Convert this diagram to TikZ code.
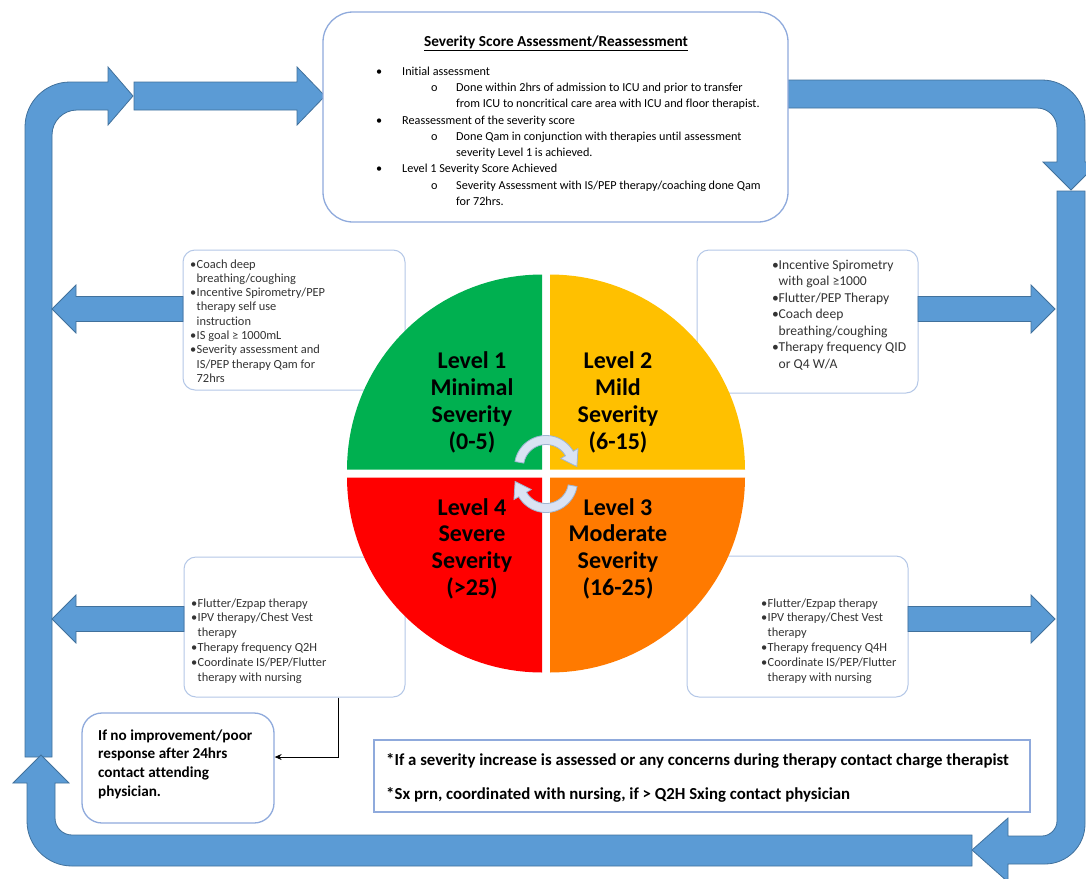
\documentclass[tikz,border=0pt]{standalone}
\usepackage{fontspec}
\setmainfont{Carlito}[Ligatures=NoCommon]
\usetikzlibrary{arrows.meta}
\definecolor{arrowfill}{HTML}{5B9BD5}
\definecolor{arrowline}{HTML}{41719C}
\definecolor{boxline}{HTML}{8FAADC}
\definecolor{lvlline}{HTML}{B4C7E7}
\definecolor{qgreen}{HTML}{00B050}
\definecolor{qyellow}{HTML}{FFC000}
\definecolor{qorange}{HTML}{FF7A00}
\definecolor{qred}{HTML}{FF0000}
\definecolor{cycfill}{HTML}{DAE3F3}
\definecolor{cycline}{HTML}{9FB6D3}
\definecolor{lvltext}{HTML}{333333}
\newcommand{\bul}{\makebox[6.5pt][l]{•}}
\newcommand{\cont}{\hspace*{6.5pt}}
\begin{document}
\begin{tikzpicture}[x=1pt,y=-1pt,
  bigarrow/.style={fill=arrowfill, draw=arrowline, line width=0.8pt, line join=miter},
  mainbox/.style={draw=boxline, line width=1.3pt, rounded corners=30pt, fill=white},
  lvlbox/.style={draw=lvlline, line width=1pt, rounded corners=12pt, fill=white},
  noteline/.style={draw=boxline, line width=1.5pt, fill=white},
  toptxt/.style={font=\fontsize{12.2}{14}\selectfont, anchor=base west, inner sep=0pt},
  lvltxt/.style={font=\fontsize{12.4}{14}\selectfont, text=lvltext, anchor=base west, inner sep=0pt},
  lvltxtb/.style={font=\fontsize{13.6}{15}\selectfont, text=lvltext, anchor=base west, inner sep=0pt},
  qtxt/.style={font=\bfseries\fontsize{24}{27}\selectfont, anchor=base, inner sep=0pt},
  boldtxt/.style={font=\bfseries\fontsize{15.2}{17}\selectfont, anchor=base west, inner sep=0pt},
  notetxt/.style={font=\bfseries\fontsize{16.8}{19}\selectfont, anchor=base west, inner sep=0pt},
  cyc/.style={fill=cycfill, draw=cycline, line width=0.8pt, line join=miter},
  conn/.style={draw=black, line width=1pt, -{Stealth[length=7pt,width=6pt]}}
]
\useasboundingbox (0,0) rectangle (1086,878);
\fill[white] (0,0) rectangle (1086,878);

\begin{scope}
\clip (0,0) rectangle (1086,878);
% top-left curved arrow
\draw[bigarrow] (25,757) -- (25,127) .. controls (25,102.2) and (45.2,82) .. (70,82) -- (108,82) -- (108,67) -- (133,96) -- (108,125) -- (108,110) -- (77,110) .. controls (63.2,110) and (52,121.2) .. (52,135) -- (52,757) -- cycle;
% straight top arrow
\draw[bigarrow] (134,82) -- (297,82) -- (297,67) -- (325,96) -- (297,125) -- (297,110) -- (134,110) -- cycle;
% top-right curved arrow
\draw[bigarrow] (788,80) -- (1042,80) .. controls (1065.7,80) and (1085,99.3) .. (1085,123) -- (1085,162) -- (1099,162) -- (1071,190) -- (1043,162) -- (1057,162) -- (1057,128) .. controls (1057,117) and (1048,108) .. (1037,108) -- (788,108) -- cycle;
% right vertical, bottom-right curved arrow
\draw[bigarrow] (1057,191) -- (1085,191) -- (1085,824) .. controls (1085,846) and (1067,864) .. (1045,864) -- (1008,864) -- (1008,882) -- (972,850) -- (1008,818) -- (1008,836) -- (1042,836) .. controls (1050,836) and (1057,829) .. (1057,821) -- cycle;
% bottom arrow, curving up on the left
\draw[bigarrow] (972,835) -- (72,835) .. controls (62.6,835) and (55,827.4) .. (55,818) -- (55,783) -- (69,783) -- (41,755) -- (13,783) -- (27,783) -- (27,821) .. controls (27,845.9) and (47.1,866) .. (72,866) -- (972,866) -- cycle;
\end{scope}

% top box
\node[mainbox, minimum width=465pt, minimum height=210pt] (topbox) at (555.5,117) {};
\node[font=\bfseries\fontsize{15.3}{17}\selectfont, anchor=base, inner sep=0pt] (title) at (556,46) {\underline{Severity Score Assessment/Reassessment}};
\node[toptxt] (b1) at (376,75) {•};
\node[toptxt] (l1) at (402,75) {Initial assessment};
\node[toptxt] (o1) at (431,91) {o};
\node[toptxt] (s1a) at (456,91) {Done within 2hrs of admission to ICU and prior to transfer};
\node[toptxt] (s1b) at (456,107) {from ICU to noncritical care area with ICU and floor therapist.};
\node[toptxt] (b2) at (376,124) {•};
\node[toptxt] (l2) at (402,124) {Reassessment of the severity score};
\node[toptxt] (o2) at (431,140) {o};
\node[toptxt] (s2a) at (456,140) {Done Qam in conjunction with therapies until assessment};
\node[toptxt] (s2b) at (456,156) {severity Level 1 is achieved.};
\node[toptxt] (b3) at (376,172) {•};
\node[toptxt] (l3) at (402,172) {Level 1 Severity Score Achieved};
\node[toptxt] (o3) at (431,189) {o};
\node[toptxt] (s3a) at (456,189) {Severity Assessment with IS/PEP therapy/coaching done Qam};
\node[toptxt] (s3b) at (456,205) {for 72hrs.};

% level boxes
\node[lvlbox, minimum width=222pt, minimum height=140pt] (ltbox) at (294,320) {};
\node[lvlbox, minimum width=221pt, minimum height=143pt] (rtbox) at (807.5,321.5) {};
\node[lvlbox, minimum width=221pt, minimum height=140pt] (lbbox) at (294.5,627) {};
\node[lvlbox, minimum width=221pt, minimum height=141pt] (rbbox) at (797.5,626.5) {};

% side arrows
\draw[bigarrow] (183,296.5) -- (76,296.5) -- (76,285) -- (52,309) -- (76,333) -- (76,321.5) -- (183,321.5) -- cycle;
\draw[bigarrow] (918,296.5) -- (1031,296.5) -- (1031,285) -- (1055,309) -- (1031,333) -- (1031,321.5) -- (918,321.5) -- cycle;
\draw[bigarrow] (184,606.5) -- (76,606.5) -- (76,595) -- (52,619) -- (76,643) -- (76,631.5) -- (184,631.5) -- cycle;
\draw[bigarrow] (908,606.5) -- (1031,606.5) -- (1031,595) -- (1055,619) -- (1031,643) -- (1031,631.5) -- (908,631.5) -- cycle;

% level box texts
\foreach \t [count=\i] in {{\bul Coach deep},{\cont breathing/coughing},{\bul Incentive Spirometry/PEP},{\cont therapy self use},{\cont instruction},{\bul IS goal ≥ 1000mL},{\bul Severity assessment and},{\cont IS/PEP therapy Qam for},{\cont 72hrs}}
  \node[lvltxt] (lt\i) at (190,{268+14.3*(\i-1)}) {\t};
\foreach \t [count=\i] in {{\bul Incentive Spirometry},{\cont with goal ≥1000},{\bul Flutter/PEP Therapy},{\bul Coach deep},{\cont breathing/coughing},{\bul Therapy frequency QID},{\cont or Q4 W/A}}
  \node[lvltxtb] (rt\i) at (772,{269+16.5*(\i-1)}) {\t};
\foreach \t [count=\i] in {{\bul Flutter/Ezpap therapy},{\bul IPV therapy/Chest Vest},{\cont therapy},{\bul Therapy frequency Q2H},{\bul Coordinate IS/PEP/Flutter},{\cont therapy with nursing}}
  \node[lvltxt] (lb\i) at (191,{607+14.8*(\i-1)}) {\t};
\foreach \t [count=\i] in {{\bul Flutter/Ezpap therapy},{\bul IPV therapy/Chest Vest},{\cont therapy},{\bul Therapy frequency Q4H},{\bul Coordinate IS/PEP/Flutter},{\cont therapy with nursing}}
  \node[lvltxt] (rb\i) at (761,{607+14.8*(\i-1)}) {\t};

% circle quadrants
\fill[qgreen] (542,469.5) -- plot[domain=180:270,samples=40] ({542+195*cos(\x)},{469.5+195*sin(\x)}) -- cycle;
\fill[qyellow] (550,469.5) -- plot[domain=270:360,samples=40] ({550+195*cos(\x)},{469.5+195*sin(\x)}) -- cycle;
\fill[qorange] (550,477.5) -- plot[domain=0:90,samples=40] ({550+195*cos(\x)},{477.5+195*sin(\x)}) -- cycle;
\fill[qred] (542,477.5) -- plot[domain=90:180,samples=40] ({542+195*cos(\x)},{477.5+195*sin(\x)}) -- cycle;

\foreach \t [count=\i] in {Level 1,Minimal,Severity,(0-5)}
  \node[qtxt] (qa\i) at (472,{368+27*(\i-1)}) {\t};
\foreach \t [count=\i] in {Level 2,Mild,Severity,(6-15)}
  \node[qtxt] (qb\i) at (618,{368+27*(\i-1)}) {\t};
\foreach \t [count=\i] in {Level 4,Severe,Severity,(>25)}
  \node[qtxt] (qd\i) at (472,{515+26.7*(\i-1)}) {\t};
\foreach \t [count=\i] in {Level 3,Moderate,Severity,(16-25)}
  \node[qtxt] (qc\i) at (618,{515+26.7*(\i-1)}) {\t};

% cycle arrows in the centre
\begin{scope}[shift={(546,467)}]
\draw[cyc] plot[domain=190:330,samples=40] ({31.5*cos(\x)},{31.5*sin(\x)}) -- (32.04,-18.5) -- (30.88,-0.5) -- (14.72,-8.5) -- plot[domain=330:190,samples=40] ({22.5*cos(\x)},{22.5*sin(\x)}) -- cycle;
\end{scope}
\begin{scope}[shift={(546,481)},rotate=180]
\draw[cyc] plot[domain=190:330,samples=40] ({31.5*cos(\x)},{31.5*sin(\x)}) -- (32.04,-18.5) -- (30.88,-0.5) -- (14.72,-8.5) -- plot[domain=330:190,samples=40] ({22.5*cos(\x)},{22.5*sin(\x)}) -- cycle;
\end{scope}

% bottom-left note box
\node[draw=boxline, line width=1.3pt, rounded corners=20pt, fill=white, minimum width=192pt, minimum height=110pt] (ifno) at (178,768) {};
\foreach \t [count=\i] in {If no improvement/poor,response after 24hrs,contact attending,physician.}
  \node[boldtxt] (if\i) at (98,{740+18.8*(\i-1)}) {\t};
\coordinate (cbend) at (338,757);
\draw[conn] (lbbox.south -| cbend) |- (ifno.east |- cbend);

% bottom-right note box
\node[noteline, minimum width=656pt, minimum height=72pt] (note) at (702,776) {};
\node[notetxt] (n1) at (386,765) {*If a severity increase is assessed or any concerns during therapy contact charge therapist};
\node[notetxt] (n2) at (386,799) {*Sx prn, coordinated with nursing, if > Q2H Sxing contact physician};
\end{tikzpicture}
\end{document}
